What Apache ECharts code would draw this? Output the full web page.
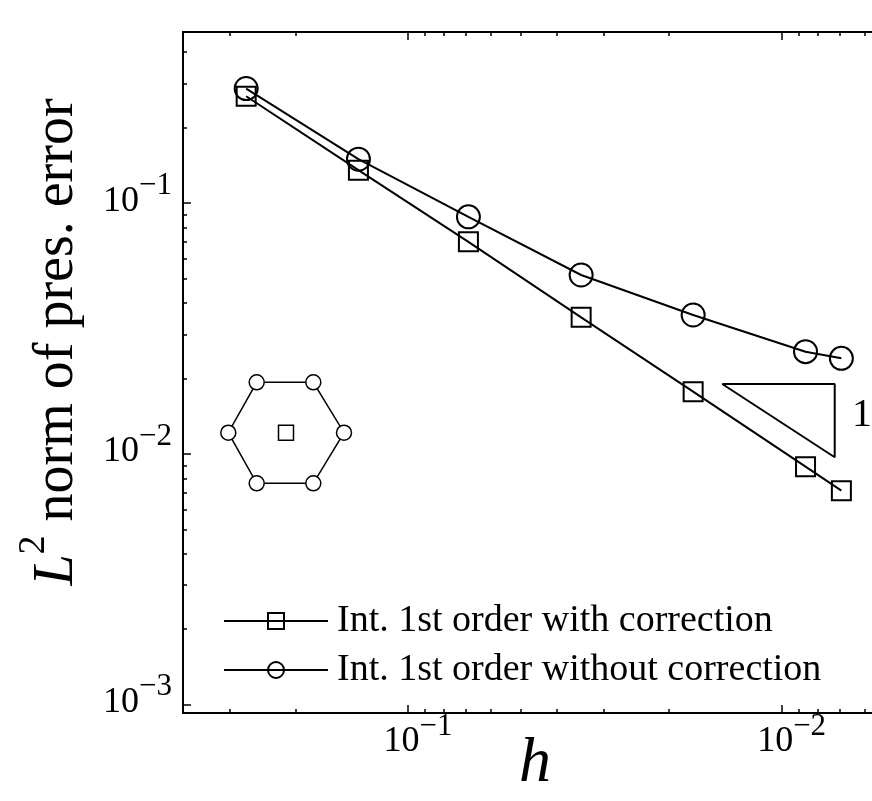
<!DOCTYPE html>
<html>
<head>
<meta charset="utf-8">
<script src="https://cdn.jsdelivr.net/npm/echarts@6/dist/echarts.min.js"></script>
<style>
html, body { margin: 0; padding: 0; background: #fff; }
#chart { width: 872px; height: 801px; }
</style>
</head>
<body>
<div id="chart"></div>
<script>
// values
var hValues = [0.271, 0.1357, 0.0689, 0.0344, 0.01725, 0.00863, 0.00692];
var errWithCorrection = [0.2669, 0.1354, 0.0701, 0.03504, 0.01771, 0.0089, 0.00714];
var errWithoutCorrection = [0.2864, 0.1497, 0.0882, 0.0517, 0.0358, 0.02557, 0.02406];
// slope triangle (order 1)
var slopeH = [0.01442, 0.00721, 0.00721, 0.01442];
var slopeErr = [0.01901, 0.01901, 0.0097, 0.01901];

var xMajorTicks = [0.1, 0.01];
var xMinorTicks = [0.4, 0.3, 0.2, 0.09, 0.08, 0.07, 0.06, 0.05, 0.04, 0.03, 0.02,
  0.009, 0.008, 0.007, 0.006];
var yMajorTicks = [0.1, 0.01, 0.001];
var yMinorTicks = [0.4, 0.3, 0.2, 0.09, 0.08, 0.07, 0.06, 0.05, 0.04, 0.03, 0.02,
  0.009, 0.008, 0.007, 0.006, 0.005, 0.004, 0.003, 0.002];

var legendNames = ['Int. 1st order with correction', 'Int. 1st order without correction'];

// the right edge of the frame is cut off by the picture
var xMin = 0.00573, xMax = 0.4;
var yMin = 0.000927, yMax = 0.4813;

var serif = 'Liberation Serif';

function zip(a, b) {
  var out = [];
  for (var i = 0; i < a.length; i++) out.push([a[i], b[i]]);
  return out;
}

function powLabel(v) {
  var e = Math.round(Math.log10(v));
  return '{b|10}{s|\u2212' + (-e) + '}';
}

var labelRich = {
  b: { fontFamily: serif, fontSize: 36, color: '#000', lineHeight: 62, verticalAlign: 'middle' },
  s: { fontFamily: serif, fontSize: 31, color: '#000', lineHeight: 31, verticalAlign: 'top' }
};

function xAxisDef(pos, ticks, len, withLabel) {
  return {
    type: 'log', logBase: 10, min: xMin, max: xMax, inverse: true, position: pos,
    axisLine: { show: withLabel || pos === 'top', lineStyle: { color: '#000', width: 2 } },
    axisTick: { show: true, inside: true, length: len, customValues: ticks,
      lineStyle: { color: '#000', width: 1.5 } },
    axisLabel: { show: withLabel, customValues: xMajorTicks, margin: -2,
      padding: [0, 0, 0, 20], formatter: powLabel, rich: labelRich },
    splitLine: { show: false }, minorTick: { show: false }
  };
}

function yAxisDef(ticks, len, withLabel) {
  return {
    type: 'log', logBase: 10, min: yMin, max: yMax, position: 'left',
    axisLine: { show: withLabel, lineStyle: { color: '#000', width: 2 } },
    axisTick: { show: true, inside: true, length: len, customValues: ticks,
      lineStyle: { color: '#000', width: 1.5 } },
    axisLabel: { show: withLabel, customValues: yMajorTicks, margin: 11,
      padding: [0, 0, 4, 0], formatter: powLabel, rich: labelRich },
    splitLine: { show: false }, minorTick: { show: false }
  };
}

var chart = echarts.init(document.getElementById('chart'));

var option = {
  animation: false,
  backgroundColor: '#fff',
  grid: { left: 183, top: 32, right: 0, bottom: 88, containLabel: false },
  xAxis: [
    xAxisDef('bottom', xMajorTicks, 8, true),
    xAxisDef('bottom', xMinorTicks, 4, false),
    xAxisDef('top', xMajorTicks, 8, false),
    xAxisDef('top', xMinorTicks, 4, false)
  ],
  yAxis: [
    yAxisDef(yMajorTicks, 8, true),
    yAxisDef(yMinorTicks, 4, false)
  ],
  legend: {
    orient: 'vertical', left: 218, top: 596,
    itemWidth: 104, itemHeight: 20, itemGap: 9,
    selectedMode: false,
    data: legendNames,
    textStyle: { fontFamily: serif, fontSize: 38, color: '#000', lineHeight: 40, padding: [0, 0, 0, 4] }
  },
  series: [
    {
      name: legendNames[0], type: 'line', data: zip(hValues, errWithCorrection),
      symbol: 'rect', symbolSize: 19, z: 3,
      lineStyle: { color: '#000', width: 2 },
      itemStyle: { color: 'rgba(0,0,0,0)', borderColor: '#000', borderWidth: 2 },
      emphasis: { disabled: true }
    },
    {
      name: legendNames[1], type: 'line', data: zip(hValues, errWithoutCorrection),
      symbol: 'circle', symbolSize: 23, z: 3,
      lineStyle: { color: '#000', width: 2 },
      itemStyle: { color: 'rgba(0,0,0,0)', borderColor: '#000', borderWidth: 2 },
      emphasis: { disabled: true }
    },
    {
      type: 'line', data: zip(slopeH, slopeErr), symbol: 'none', silent: true,
      lineStyle: { color: '#000', width: 2 }
    }
  ],
  graphic: [
    // y axis title
    {
      type: 'text', x: 50, y: 342, rotation: Math.PI / 2,
      style: {
        text: '{i|L}{s|2}{n| norm of pres. error}',
        align: 'center', verticalAlign: 'middle',
        rich: {
          i: { fontFamily: serif, fontStyle: 'italic', fontSize: 56, lineHeight: 70, verticalAlign: 'bottom', fill: '#000' },
          s: { fontFamily: serif, fontSize: 38, lineHeight: 40, verticalAlign: 'top', fill: '#000' },
          n: { fontFamily: serif, fontSize: 56, lineHeight: 70, verticalAlign: 'bottom', fill: '#000' }
        }
      }
    },
    // x axis title
    {
      type: 'text', x: 535, y: 764,
      style: { text: 'h', fontFamily: serif, fontStyle: 'italic', fontSize: 64,
        align: 'center', verticalAlign: 'middle', fill: '#000' }
    },
    // slope label
    {
      type: 'text', x: 862, y: 415,
      style: { text: '1', fontFamily: serif, fontSize: 40, align: 'center', verticalAlign: 'middle', fill: '#000' }
    },
    // hexagon stencil inset
    {
      type: 'polygon',
      shape: { points: [[256.7, 382.3], [313.3, 382.3], [344, 432.7], [313.3, 483.3], [256.7, 483.3], [228.3, 432.7]] },
      style: { fill: 'none', stroke: '#000', lineWidth: 1.5 }
    },
    { type: 'circle', shape: { cx: 256.7, cy: 382.3, r: 7.5 }, style: { fill: '#fff', stroke: '#000', lineWidth: 1.5 } },
    { type: 'circle', shape: { cx: 313.3, cy: 382.3, r: 7.5 }, style: { fill: '#fff', stroke: '#000', lineWidth: 1.5 } },
    { type: 'circle', shape: { cx: 344, cy: 432.7, r: 7.5 }, style: { fill: '#fff', stroke: '#000', lineWidth: 1.5 } },
    { type: 'circle', shape: { cx: 313.3, cy: 483.3, r: 7.5 }, style: { fill: '#fff', stroke: '#000', lineWidth: 1.5 } },
    { type: 'circle', shape: { cx: 256.7, cy: 483.3, r: 7.5 }, style: { fill: '#fff', stroke: '#000', lineWidth: 1.5 } },
    { type: 'circle', shape: { cx: 228.3, cy: 432.7, r: 7.5 }, style: { fill: '#fff', stroke: '#000', lineWidth: 1.5 } },
    { type: 'rect', shape: { x: 278.5, y: 425.2, width: 15, height: 15 }, style: { fill: 'none', stroke: '#000', lineWidth: 1.5 } }
  ]
};

chart.setOption(option);
</script>
</body>
</html>
